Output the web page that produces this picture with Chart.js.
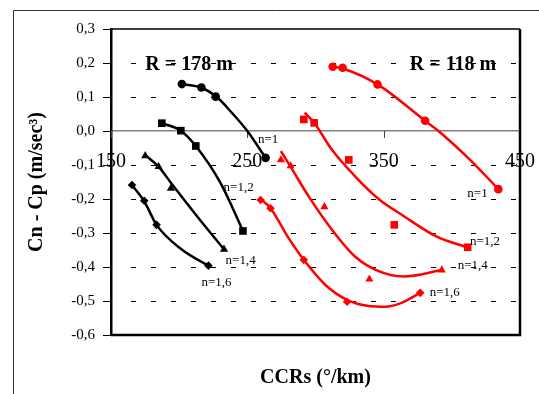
<!DOCTYPE html>
<html>
<head>
<meta charset="utf-8">
<script src="https://cdn.jsdelivr.net/npm/chart.js@4"></script>
<style>
  html, body { margin: 0; padding: 0; background: #fff; }
  #wrap { width: 539px; height: 394px; }
</style>
</head>
<body>
<div id="wrap"><canvas id="myChart" width="539" height="394"></canvas></div>
<script>
// axis ticks
var xTicks = [150, 250, 350, 450];
var yMin = -0.6, yMax = 0.3;

// R = 178 m (black) - measured points
var b10x = [202.0, 216.3, 226.8, 263.4];
var b10y = [0.138, 0.128, 0.101, -0.079];
var b12x = [187.3, 201.2, 212.2, 246.8];
var b12y = [0.023, 0.001, -0.044, -0.294];
var b14x = [175.1, 184.9, 193.9, 232.9];
var b14y = [-0.073, -0.105, -0.169, -0.348];
var b16x = [165.4, 174.4, 183.4, 221.5];
var b16y = [-0.159, -0.205, -0.276, -0.396];

// R = 118 m (red) - measured points
var r10x = [312.6, 319.9, 345.5, 380.4, 434.1];
var r10y = [0.189, 0.186, 0.137, 0.030, -0.171];
var r12x = [291.4, 299.0, 324.4, 357.8, 411.6];
var r12y = [0.034, 0.024, -0.085, -0.276, -0.342];
var r14x = [274.6, 281.7, 306.5, 339.5, 392.6];
var r14y = [-0.085, -0.103, -0.223, -0.436, -0.409];
var r16x = [259.7, 267.0, 291.4, 323.2, 376.8];
var r16y = [-0.203, -0.227, -0.379, -0.502, -0.476];

// trend curves
var tb10x = [202, 216, 227, 239, 250, 263.4];
var tb10y = [0.138, 0.128, 0.102, 0.052, 0.0, -0.079];
var tb12x = [187.3, 201.2, 212.2, 230.5, 246.8];
var tb12y = [0.023, 0.001, -0.044, -0.154, -0.294];
var tb14x = [175.1, 184.9, 193.9, 213.4, 232.9];
var tb14y = [-0.071, -0.105, -0.152, -0.252, -0.348];
var tb16x = [165.4, 174.4, 183.4, 202.4, 221.5];
var tb16y = [-0.159, -0.207, -0.276, -0.35, -0.396];

var tr10x = [312.6, 319.9, 345.5, 380.4, 390.2, 413.4, 434.1];
var tr10y = [0.189, 0.184, 0.137, 0.030, 0.0, -0.085, -0.171];
var tr12x = [292.1, 299.0, 312.2, 329.2, 346.3, 364.6, 389.0, 410.9];
var tr12y = [0.054, 0.024, -0.056, -0.134, -0.200, -0.250, -0.311, -0.342];
var tr14x = [274.6, 281.7, 295.1, 312.2, 329.2, 345.0, 364.6, 392.6];
var tr14y = [-0.059, -0.105, -0.193, -0.291, -0.370, -0.410, -0.428, -0.409];
var tr16x = [259.0, 267.0, 280.4, 291.4, 307.3, 323.2, 339.0, 351.2, 362.1, 376.8];
var tr16y = [-0.198, -0.227, -0.316, -0.379, -0.453, -0.497, -0.515, -0.517, -0.507, -0.476];

// text notes inside the plot (data coordinates)
var notes = [
    {text: 'R = 178 m', x: 207.3, y: 0.194, big: true},
    {text: 'R = 118 m', x: 400.9, y: 0.194, big: true},
    {text: 'n=1', x: 265.2, y: -0.025},
    {text: 'n=1,2', x: 243.6, y: -0.166},
    {text: 'n=1,4', x: 245.1, y: -0.382},
    {text: 'n=1,6', x: 227.4, y: -0.447},
    {text: 'n=1', x: 418.8, y: -0.185},
    {text: 'n=1,2', x: 424.3, y: -0.325},
    {text: 'n=1,4', x: 415.4, y: -0.397},
    {text: 'n=1,6', x: 394.8, y: -0.475}
];

function pts(xs, ys) {
    return xs.map(function (x, i) { return {x: x, y: ys[i]}; });
}

var BLACK = '#000000';
var RED = '#ff0000';

function markers(label, xs, ys, color, style, r) {
    return {
        label: label, data: pts(xs, ys), showLine: false, order: 0,
        pointStyle: style, pointRadius: r, pointBackgroundColor: color,
        pointBorderColor: color, pointBorderWidth: 0, pointHoverRadius: r
    };
}
function trend(label, xs, ys, color) {
    return {
        label: label, data: pts(xs, ys), showLine: true, order: 1,
        borderColor: color, borderWidth: 2.5, pointRadius: 0,
        cubicInterpolationMode: 'monotone', fill: false
    };
}

var serif = "'Liberation Serif', 'DejaVu Serif', serif";

// Excel-like frame, dashed gridlines and tick marks, placed via the scales
var framePlugin = {
    id: 'frame',
    beforeDraw: function (chart) {
        var c = chart.ctx;
        c.save();
        c.strokeStyle = '#333';
        c.lineWidth = 1;
        c.beginPath();
        c.moveTo(13.5, chart.height);
        c.lineTo(13.5, 10.5);
        c.lineTo(chart.width, 10.5);
        c.stroke();
        c.restore();
    },
    beforeDatasetsDraw: function (chart) {
        var c = chart.ctx, a = chart.chartArea;
        var xs = chart.scales.x, ys = chart.scales.y;
        var y0 = ys.getPixelForValue(0);
        c.save();
        c.strokeStyle = '#000';
        c.lineWidth = 1;
        ys.ticks.forEach(function (t) {
            var py = Math.round(ys.getPixelForValue(t.value)) + 0.5;
            c.setLineDash([]);
            c.beginPath();
            c.moveTo(a.left - 8, py);
            c.lineTo(a.left, py);
            c.stroke();
            if (Math.abs(t.value) < 1e-9 || t.value >= yMax - 1e-9 || t.value <= yMin + 1e-9) return;
            c.setLineDash([5, 15]);
            c.beginPath();
            c.moveTo(a.left + 20, py);
            c.lineTo(a.right, py);
            c.stroke();
        });
        c.setLineDash([]);
        c.strokeStyle = '#444';
        xs.ticks.forEach(function (t) {
            var px = Math.round(xs.getPixelForValue(t.value)) + 0.5;
            c.beginPath();
            c.moveTo(px, y0);
            c.lineTo(px, y0 + 7);
            c.stroke();
        });
        c.restore();
    },
    afterDraw: function (chart) {
        var c = chart.ctx, a = chart.chartArea;
        var xs = chart.scales.x, ys = chart.scales.y;
        c.save();
        c.strokeStyle = '#000';
        c.lineWidth = 1.3;
        c.beginPath();
        c.moveTo(a.left, a.top);
        c.lineTo(a.right, a.top);
        c.stroke();
        c.lineWidth = 2.5;
        c.beginPath();
        c.moveTo(a.right, a.top);
        c.lineTo(a.right, a.bottom);
        c.lineTo(a.left, a.bottom);
        c.stroke();
        c.textAlign = 'center';
        c.textBaseline = 'middle';
        c.fillStyle = '#000';
        notes.forEach(function (n) {
            c.font = n.big ? 'bold 20px ' + serif : '13px ' + serif;
            c.fillText(n.text, xs.getPixelForValue(n.x), ys.getPixelForValue(n.y));
        });
        c.restore();
    }
};

var ctx = document.getElementById('myChart').getContext('2d');
var myChart = new Chart(ctx, {
    type: 'scatter',
    data: {
        datasets: [
            markers('R=178 n=1', b10x, b10y, BLACK, 'circle', 4.3),
            markers('R=178 n=1,2', b12x, b12y, BLACK, 'rect', 5.4),
            markers('R=178 n=1,4', b14x, b14y, BLACK, 'triangle', 4.7),
            markers('R=178 n=1,6', b16x, b16y, BLACK, 'rectRot', 4.3),
            markers('R=118 n=1', r10x, r10y, RED, 'circle', 4.3),
            markers('R=118 n=1,2', r12x, r12y, RED, 'rect', 5.4),
            markers('R=118 n=1,4', r14x, r14y, RED, 'triangle', 4.7),
            markers('R=118 n=1,6', r16x, r16y, RED, 'rectRot', 4.3),
            trend('trend 178 n=1', tb10x, tb10y, BLACK),
            trend('trend 178 n=1,2', tb12x, tb12y, BLACK),
            trend('trend 178 n=1,4', tb14x, tb14y, BLACK),
            trend('trend 178 n=1,6', tb16x, tb16y, BLACK),
            trend('trend 118 n=1', tr10x, tr10y, RED),
            trend('trend 118 n=1,2', tr12x, tr12y, RED),
            trend('trend 118 n=1,4', tr14x, tr14y, RED),
            trend('trend 118 n=1,6', tr16x, tr16y, RED)
        ]
    },
    options: {
        responsive: false,
        animation: false,
        layout: { padding: { left: 0, top: 29, right: 19, bottom: 0 } },
        plugins: {
            legend: { display: false },
            tooltip: { enabled: false },
            title: {
                display: true,
                position: 'bottom',
                fullSize: false,
                text: 'CCRs (°/km)',
                color: '#000',
                font: { family: serif, size: 20, weight: 'bold', lineHeight: 1.2 },
                padding: { top: 31, bottom: 4 }
            }
        },
        scales: {
            x: {
                type: 'linear',
                position: { y: 0 },
                min: xTicks[0],
                max: xTicks[xTicks.length - 1],
                afterBuildTicks: function (s) {
                    s.ticks = xTicks.map(function (v) { return {value: v}; });
                },
                ticks: {
                    color: '#000',
                    padding: 0,
                    maxRotation: 0,
                    font: { family: serif, size: 20 }
                },
                // invisible tick length only pushes the labels below the zero line
                grid: { drawOnChartArea: false, drawTicks: true, tickLength: 19, tickColor: 'rgba(0,0,0,0)' },
                border: { color: '#808080', width: 1.5 }
            },
            y: {
                type: 'linear',
                min: yMin,
                max: yMax,
                afterFit: function (s) { s.width = 111; },
                ticks: {
                    stepSize: 0.1,
                    color: '#000',
                    padding: 16,
                    font: { family: serif, size: 15 },
                    callback: function (v) {
                        if (Math.abs(v) < 1e-9) return '0,0';
                        return v.toFixed(1).replace('.', ',');
                    }
                },
                grid: { drawOnChartArea: false, drawTicks: false },
                border: { display: true, color: '#000', width: 2.5 },
                title: {
                    display: true,
                    text: 'Cn - Cp (m/sec³)',
                    color: '#000',
                    font: { family: serif, size: 20, weight: 'bold', lineHeight: 1.2 },
                    padding: { top: 25, bottom: 0 }
                }
            }
        }
    },
    plugins: [framePlugin]
});
</script>
</body>
</html>
